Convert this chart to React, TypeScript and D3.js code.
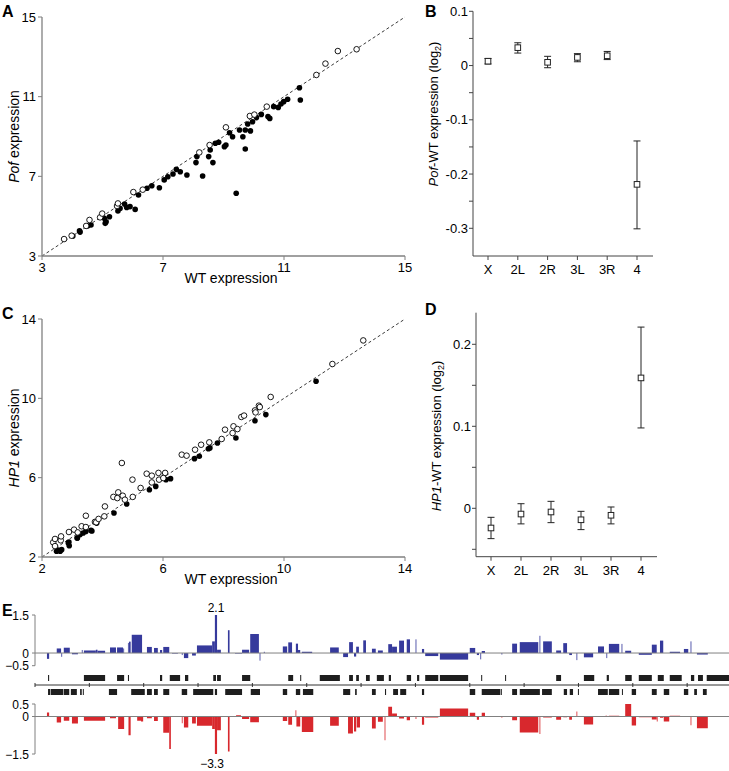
import React from 'react';
import * as d3 from 'd3';

const FONT = '"Liberation Sans", Arial, Helvetica, sans-serif';
const AXIS = '#808080';

// Panel A: Pof vs WT expression (open = above/on diagonal, filled = below)
const pofOpen: [number, number][] = [
  [3.73, 3.85], [3.98, 4.02], [4.46, 4.51], [4.57, 4.81], [4.92, 4.94], [4.99, 5.13],
  [5.48, 5.51], [5.51, 5.64], [6.02, 6.21], [6.33, 6.33], [8.2, 8.2], [8.54, 8.57],
  [9.08, 9.46], [9.87, 10.03], [10.02, 10.1], [10.43, 10.5], [12.07, 12.09],
  [12.37, 12.66], [12.78, 13.29], [13.4, 13.38],
];
const pofFilled: [number, number][] = [
  [4.02, 4.0], [4.24, 4.26], [4.26, 4.2], [4.51, 4.51], [4.62, 4.56], [5.06, 4.89], [5.12, 4.72],
  [5.23, 4.97], [5.09, 4.64], [5.51, 5.26], [5.58, 5.39], [5.73, 5.61], [5.8, 5.44], [5.91, 5.48],
  [6.08, 5.34], [6.19, 6.06], [6.47, 6.4], [6.63, 6.53], [6.88, 6.43], [7.04, 6.82], [7.16, 6.98],
  [7.33, 7.12], [7.44, 7.35], [7.57, 7.23], [7.79, 7.07], [8.09, 7.69], [8.12, 7.99], [8.31, 7.02],
  [8.51, 7.99], [8.56, 8.32], [8.65, 7.69], [8.73, 8.66], [8.84, 8.71], [9.03, 8.49], [9.08, 8.57],
  [9.2, 9.19], [9.3, 8.99], [9.42, 6.15], [9.53, 9.33], [9.64, 8.99], [9.72, 8.37], [9.72, 9.33],
  [9.8, 9.63], [9.89, 9.28], [9.96, 9.74], [10.09, 9.95], [10.25, 10.11], [10.47, 10.0],
  [10.53, 9.91], [10.66, 10.5], [10.81, 10.46], [10.9, 10.63], [10.99, 10.75], [11.12, 10.87],
  [11.51, 11.45], [11.54, 10.83],
];

// Panel C: HP1 vs WT expression
const hp1Open: [number, number][] = [
  [2.37, 2.74], [2.43, 2.91], [2.43, 2.55], [2.62, 2.84], [2.63, 3.04], [2.89, 3.26], [3.06, 3.38],
  [3.18, 3.24], [3.31, 3.55], [3.45, 3.51], [3.45, 4.08], [3.75, 3.77], [3.79, 3.75], [3.87, 3.92],
  [4.06, 4.05], [4.08, 4.55], [4.36, 5.03], [4.52, 5.26], [4.49, 4.97], [4.67, 5.09], [4.74, 4.89],
  [4.64, 6.74], [4.99, 5.9], [5.0, 5.03], [5.26, 5.48], [5.46, 6.2], [5.63, 6.1], [5.63, 5.76],
  [5.85, 6.24], [5.87, 5.9], [6.07, 6.24], [6.01, 5.98], [6.62, 7.16], [6.78, 7.11], [7.06, 7.41],
  [7.26, 7.66], [7.53, 7.78], [7.94, 7.95], [8.05, 8.42], [8.33, 8.59], [8.46, 8.45], [8.3, 8.25],
  [8.59, 9.06], [8.68, 9.13], [9.04, 9.39], [9.06, 9.29], [9.17, 9.63], [9.2, 9.56], [9.56, 10.07],
  [11.6, 11.73], [12.62, 12.92],
];
const hp1Filled: [number, number][] = [
  [2.48, 2.29], [2.53, 2.35], [2.6, 2.29], [2.65, 2.37], [2.87, 2.71], [2.89, 2.76], [2.9, 2.57],
  [3.16, 2.96], [3.17, 2.96], [3.26, 3.13], [3.36, 3.21], [3.45, 3.29], [3.62, 3.34], [3.65, 3.31],
  [3.81, 3.71], [4.38, 4.22], [4.8, 4.67], [5.55, 5.39], [5.76, 5.56], [6.1, 5.9], [6.25, 5.95],
  [7.04, 6.96], [7.2, 7.08], [7.5, 7.46], [7.55, 7.5], [7.8, 7.75], [8.41, 8.0], [9.04, 8.87],
  [9.4, 9.18], [11.06, 10.86],
];

// Panels B and D: per chromosome arm mean difference (log2) with error range
const arms = ['X', '2L', '2R', '3L', '3R', '4'];
const pofArmMean = [0.008, 0.033, 0.006, 0.015, 0.018, -0.219];
const pofArmLow = [0.003, 0.023, -0.004, 0.007, 0.011, -0.301];
const pofArmHigh = [0.013, 0.042, 0.017, 0.022, 0.026, -0.139];
const hp1ArmMean = [-0.024, -0.007, -0.0045, -0.014, -0.0085, 0.159];
const hp1ArmLow = [-0.037, -0.019, -0.0175, -0.026, -0.019, 0.098];
const hp1ArmHigh = [-0.011, 0.0056, 0.0085, -0.0037, 0.0016, 0.221];

// Panel E: chromosome 4, positions in kb, [start, end, value]
const pofBars: [number, number, number][] = [
  [22, 26, -0.23], [40, 48, 0.18], [48, 50, -0.15], [53, 64, 0.21], [68, 79, -0.05], [86, 88, 0.12],
  [90, 112, 0.1], [112, 115, 0.13], [115, 129, 0.09], [138, 149, 0.22], [151, 162, 0.22],
  [162, 164, 0.18], [171, 173, 0.4], [173, 176, 0.45], [178, 197, 0.72], [206, 215, 0.24],
  [219, 226, 0.2], [230, 234, 0.12], [236, 247, 0.24], [252, 263, -0.02], [270, 272, -0.08],
  [274, 282, -0.2], [289, 296, -0.1], [298, 326, 0.3], [326, 331, 0.46], [331, 335, 2.1],
  [335, 342, 0.13], [355, 358, 0.9], [368, 381, -0.02], [381, 394, 0.13], [396, 412, 0.75],
  [413, 415, -0.3], [421, 423, 0.05], [456, 464, 0.26], [466, 473, 0.42], [480, 484, 0.37],
  [484, 488, 0.12], [491, 510, 0.05], [543, 559, 0.22], [567, 576, -0.16], [578, 585, 0.43],
  [587, 591, -0.14], [591, 596, 0.25], [604, 609, 0.5], [620, 627, 0.17], [631, 640, 0.1],
  [650, 657, 0.35], [657, 666, 0.25], [670, 679, 0.49], [684, 690, 0.54], [700, 702, 0.54],
  [712, 716, 0.16], [718, 742, -0.12], [745, 797, -0.26], [800, 810, 0.2], [813, 817, -0.08],
  [819, 821, -0.25], [822, 828, 0.08], [858, 860, -0.06], [878, 887, 0.37], [892, 926, 0.43],
  [928, 930, 0.68], [935, 951, 0.46], [959, 968, 0.1], [972, 979, 0.39], [983, 988, -0.08],
  [996, 998, -0.28], [1010, 1027, -0.17], [1036, 1047, 0.26], [1051, 1053, -0.2], [1056, 1075, 0.36],
  [1079, 1081, 0.36], [1086, 1097, 0.09], [1111, 1135, -0.07], [1135, 1144, 0.33], [1150, 1156, 0.49],
  [1168, 1187, 0.05], [1194, 1202, 0.16], [1206, 1208, 0.46], [1218, 1238, -0.06],
];
const hp1Bars: [number, number, number][] = [
  [22, 26, 0.16], [40, 48, -0.24], [53, 63, -0.17], [68, 79, -0.28], [90, 129, -0.17],
  [138, 149, -0.07], [153, 164, -0.5], [172, 176, -0.75], [188, 195, -0.17], [195, 199, -0.2],
  [206, 215, -0.07], [219, 226, -0.18], [236, 247, -0.65], [247, 250, -1.3], [252, 263, 0.02],
  [270, 272, -0.27], [274, 282, -0.44], [289, 296, -0.28], [298, 326, -0.37], [326, 331, -0.5],
  [331, 335, -3.3], [335, 342, -0.55], [355, 358, -1.4], [370, 379, 0.05], [381, 394, -0.1],
  [396, 412, -0.23], [456, 464, -0.18], [466, 473, -0.33], [479, 481, 0.25], [481, 488, -0.4],
  [491, 512, -0.62], [543, 559, -0.37], [576, 585, -0.68], [587, 591, -0.6], [592, 598, -0.44],
  [620, 627, -0.48], [631, 640, -0.21], [643, 645, -0.95], [650, 657, 0.39], [657, 666, 0.12],
  [670, 679, -0.08], [684, 690, -0.15], [700, 702, -0.1], [712, 716, -0.33], [718, 742, -0.04],
  [745, 797, 0.32], [800, 810, 0.15], [813, 817, -0.13], [822, 828, 0.15], [858, 860, -0.05],
  [878, 887, -0.15], [892, 926, -0.64], [928, 930, -0.7], [935, 951, -0.04], [959, 968, -0.13],
  [972, 979, -0.03], [983, 988, -0.13], [996, 998, 0.2], [1010, 1027, -0.32], [1036, 1047, -0.02],
  [1050, 1052, 0.04], [1056, 1075, 0.03], [1086, 1097, 0.53], [1098, 1106, -0.36],
  [1111, 1135, -0.03], [1135, 1144, -0.12], [1144, 1146, -0.2], [1150, 1156, -0.05],
  [1157, 1167, -0.2], [1168, 1187, 0.03], [1206, 1208, -0.35], [1218, 1238, -0.47],
];
const genesPlus: [number, number][] = [
  [24, 26], [90, 129], [151, 164], [171, 173], [230, 234], [248, 267], [276, 282], [328, 333],
  [335, 342], [381, 396], [466, 475], [488, 489], [524, 561], [578, 585], [591, 596], [609, 616],
  [629, 642], [651, 655], [684, 692], [703, 707], [718, 742], [745, 797], [821, 822], [865, 866],
  [959, 968], [1010, 1029], [1052, 1056], [1086, 1098], [1111, 1135], [1146, 1157], [1168, 1190],
  [1207, 1213], [1220, 1229], [1236, 1277],
];
const genesMinus: [number, number][] = [
  [24, 28], [29, 52], [53, 63], [66, 77], [83, 86], [88, 89], [136, 151], [177, 202], [206, 215],
  [219, 226], [236, 247], [270, 280], [291, 328], [331, 335], [350, 381], [397, 414], [456, 464],
  [480, 488], [493, 512], [567, 580], [589, 592], [620, 627], [644, 646], [659, 668], [672, 683],
  [712, 716], [800, 810], [822, 856], [857, 859], [878, 887], [892, 929], [933, 951], [973, 979],
  [984, 990], [999, 1000], [1036, 1054], [1056, 1075], [1080, 1081], [1098, 1106], [1135, 1144],
  [1157, 1167], [1194, 1202], [1213, 1218], [1229, 1236],
];
const chromLength = 1277;

type ScatterProps = {
  open: [number, number][];
  filled: [number, number][];
  domain: [number, number];
  ticks: number[];
  top: number;
  bottom: number;
  letter: string;
  gene: string;
};

const Scatter: React.FC<ScatterProps> = ({ open, filled, domain, ticks, top, bottom, letter, gene }) => {
  const x = d3.scaleLinear().domain(domain).range([42, 405]);
  const y = d3.scaleLinear().domain(domain).range([bottom, top]);
  const line = d3.line<number>().x((d) => x(d)).y((d) => y(d));
  return (
    <g>
      <text x={2} y={top} fontSize={16} fontWeight="bold">{letter}</text>
      <path d={line(domain) || ''} stroke="#222" strokeWidth={0.9} strokeDasharray="3,2.5" fill="none" />
      <line x1={x(domain[0])} x2={x(domain[1])} y1={bottom} y2={bottom} stroke={AXIS} strokeWidth={1.3} />
      <line x1={42} x2={42} y1={top} y2={bottom} stroke={AXIS} strokeWidth={1.3} />
      {ticks.map((t) => (
        <g key={t}>
          <line x1={x(t)} x2={x(t)} y1={bottom} y2={bottom + 4} stroke={AXIS} />
          <line x1={38} x2={42} y1={y(t)} y2={y(t)} stroke={AXIS} />
          <text x={x(t)} y={bottom + 16} textAnchor="middle" fontSize={13}>{t}</text>
          <text x={36} y={y(t) + 4.5} textAnchor="end" fontSize={13}>{t}</text>
        </g>
      ))}
      <text x={231} y={bottom + 27} textAnchor="middle" fontSize={14}>WT expression</text>
      <text transform={`translate(19,${(top + bottom) / 2}) rotate(-90)`} textAnchor="middle" fontSize={14}>
        <tspan fontStyle="italic">{gene}</tspan> expression
      </text>
      {filled.map((d, i) => (
        <circle key={'f' + i} cx={x(d[0])} cy={y(d[1])} r={2.8} fill="#000" />
      ))}
      {open.map((d, i) => (
        <circle key={'o' + i} cx={x(d[0])} cy={y(d[1])} r={2.8} fill="#fff" stroke="#000" strokeWidth={0.9} />
      ))}
    </g>
  );
};

type ArmProps = {
  mean: number[];
  low: number[];
  high: number[];
  yDomain: [number, number];
  yRange: [number, number];
  axisTop: number;
  axisBottom: number;
  xRange: [number, number];
  majors: number[];
  minors: number[];
  letter: string;
  gene: string;
  labelX: number;
  labelY: number;
};

const fmt = (v: number) => (Math.abs(v) < 1e-9 ? '0' : String(Math.round(v * 10) / 10));

const ArmPlot: React.FC<ArmProps> = ({
  mean, low, high, yDomain, yRange, axisTop, axisBottom, xRange, majors, minors, letter, gene, labelX, labelY,
}) => {
  const x = d3.scalePoint<string>().domain(arms).range(xRange);
  const y = d3.scaleLinear().domain(yDomain).range(yRange);
  const ax = xRange[0] - 15;
  const axEnd = xRange[1] + 16;
  return (
    <g>
      <text x={425} y={axisTop < 20 ? 17 : 315} fontSize={16} fontWeight="bold">{letter}</text>
      <line x1={ax} x2={ax} y1={axisTop} y2={axisBottom} stroke="#444" strokeWidth={1} />
      <line x1={ax} x2={axEnd} y1={axisBottom} y2={axisBottom} stroke="#444" strokeWidth={1} />
      {majors.map((t) => (
        <g key={'M' + t}>
          <line x1={ax - 4} x2={ax} y1={y(t)} y2={y(t)} stroke="#444" />
          <text x={ax - 5} y={y(t) + 4.5} textAnchor="end" fontSize={13}>{fmt(t)}</text>
        </g>
      ))}
      {minors.map((t) => (
        <line key={'m' + t} x1={ax - 4} x2={ax} y1={y(t)} y2={y(t)} stroke="#444" />
      ))}
      {arms.map((a, i) => {
        const cx = x(a) as number;
        return (
          <g key={a}>
            <line x1={cx} x2={cx} y1={axisBottom} y2={axisBottom + 4} stroke="#444" />
            <text x={cx} y={axisBottom + 18} textAnchor="middle" fontSize={13}>{a}</text>
            <line x1={cx} x2={cx} y1={y(low[i])} y2={y(high[i])} stroke="#222" strokeWidth={1} />
            <line x1={cx - 3.5} x2={cx + 3.5} y1={y(low[i])} y2={y(low[i])} stroke="#222" strokeWidth={1} />
            <line x1={cx - 3.5} x2={cx + 3.5} y1={y(high[i])} y2={y(high[i])} stroke="#222" strokeWidth={1} />
            <rect x={cx - 2.8} y={y(mean[i]) - 2.8} width={5.6} height={5.6} fill="#fff" stroke="#222" strokeWidth={1} />
          </g>
        );
      })}
      <text transform={`translate(${labelX},${labelY}) rotate(-90)`} textAnchor="middle" fontSize={13}>
        <tspan fontStyle="italic">{gene}</tspan>
        <tspan>-WT expression (log</tspan>
        <tspan dy={3} fontSize={9}>2</tspan>
        <tspan dy={-3}>)</tspan>
      </text>
    </g>
  );
};

const GenomePanel: React.FC = () => {
  const x = d3.scaleLinear().domain([0, chromLength]).range([35, 729]);
  const yTop = d3.scaleLinear().domain([-0.5, 1.5]).range([665.7, 615]).clamp(true);
  const yBot = d3.scaleLinear().domain([-1.5, 0.5]).range([754, 704]).clamp(true);
  const blue = '#363a9c';
  const red = '#d8282d';
  const bar = (d: [number, number, number], ys: d3.ScaleLinear<number, number>, color: string, k: string) => {
    const x0 = x(d[0]);
    const w = Math.max(1.1, x(d[1]) - x0);
    const y0 = ys(0);
    const y1 = ys(d[2]);
    return (
      <rect key={k} x={x0} y={Math.min(y0, y1)} width={w} height={Math.abs(y1 - y0)}
        fill={color} opacity={w < 1.5 ? 0.75 : 1} />
    );
  };
  const kbTicks = d3.range(0, chromLength, 100);
  return (
    <g>
      <text x={2} y={616} fontSize={16} fontWeight="bold">E</text>
      {/* Pof - WT */}
      {pofBars.map((d, i) => bar(d, yTop, blue, 'p' + i))}
      <line x1={35} x2={729} y1={yTop(0)} y2={yTop(0)} stroke={AXIS} strokeWidth={1} />
      <line x1={35} x2={35} y1={yTop(1.5)} y2={yTop(-0.5)} stroke={AXIS} />
      {[1.5, 0, -0.5].map((t) => (
        <g key={'ty' + t}>
          <line x1={32} x2={35} y1={yTop(t)} y2={yTop(t)} stroke={AXIS} />
          <text x={29} y={yTop(t) + 4.5} textAnchor="end" fontSize={12}>{t < 0 ? '\u2212' + Math.abs(t) : t}</text>
        </g>
      ))}
      <text x={216} y={612} textAnchor="middle" fontSize={12}>2.1</text>
      {/* gene tracks */}
      {genesPlus.map((g, i) => (
        <rect key={'gp' + i} x={x(g[0])} y={675} width={Math.max(1, x(g[1]) - x(g[0]))} height={6} fill="#1e1e1e" />
      ))}
      <line x1={35} x2={729} y1={685} y2={685} stroke="#333" strokeWidth={1} />
      {kbTicks.map((t) => (
        <line key={'k' + t} x1={x(t)} x2={x(t)} y1={683} y2={687} stroke="#333" />
      ))}
      {genesMinus.map((g, i) => (
        <rect key={'gm' + i} x={x(g[0])} y={689} width={Math.max(1, x(g[1]) - x(g[0]))} height={6} fill="#1e1e1e" />
      ))}
      {/* HP1 - WT */}
      {hp1Bars.map((d, i) => bar(d, yBot, red, 'h' + i))}
      <line x1={35} x2={729} y1={yBot(0)} y2={yBot(0)} stroke={AXIS} strokeWidth={1} />
      <line x1={35} x2={35} y1={yBot(0.5)} y2={yBot(-1.5)} stroke={AXIS} />
      {[0.5, 0, -1.5].map((t) => (
        <g key={'by' + t}>
          <line x1={32} x2={35} y1={yBot(t)} y2={yBot(t)} stroke={AXIS} />
          <text x={29} y={yBot(t) + 4.5} textAnchor="end" fontSize={12}>{t < 0 ? '\u2212' + Math.abs(t) : t}</text>
        </g>
      ))}
      <text x={212} y={768} textAnchor="middle" fontSize={12}>{'\u22123.3'}</text>
    </g>
  );
};

export default function App() {
  return (
    <svg width={729} height={771} style={{ position: 'absolute', left: 0, top: 0, background: '#fff' }}
      fontFamily={FONT}>
      <rect width={729} height={771} fill="#fff" />
      <Scatter open={pofOpen} filled={pofFilled} domain={[3, 15]} ticks={[3, 7, 11, 15]}
        top={17} bottom={256} letter="A" gene="Pof" />
      <Scatter open={hp1Open} filled={hp1Filled} domain={[2, 14]} ticks={[2, 6, 10, 14]}
        top={319} bottom={557} letter="C" gene="HP1" />
      <ArmPlot mean={pofArmMean} low={pofArmLow} high={pofArmHigh} yDomain={[-0.3, 0.1]} yRange={[228.3, 11.3]}
        axisTop={11.3} axisBottom={256} xRange={[488, 637]} majors={[0.1, 0, -0.1, -0.2, -0.3]}
        minors={[0.05, -0.05, -0.15, -0.25]} letter="B" gene="Pof" labelX={438} labelY={114} />
      <ArmPlot mean={hp1ArmMean} low={hp1ArmLow} high={hp1ArmHigh} yDomain={[0, 0.2]} yRange={[508.3, 344.3]}
        axisTop={312.7} axisBottom={556.7} xRange={[491, 641]} majors={[0.2, 0.1, 0]}
        minors={[0.15, 0.05, -0.05]} letter="D" gene="HP1" labelX={441} labelY={436} />
      <GenomePanel />
    </svg>
  );
}
